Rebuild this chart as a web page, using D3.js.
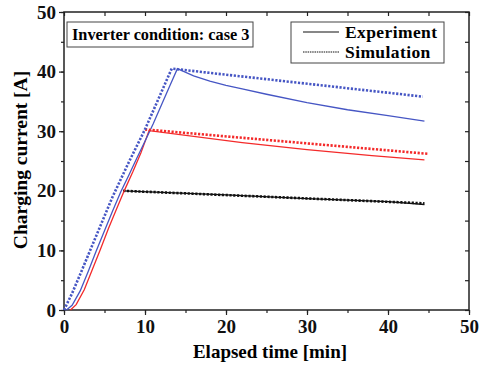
<!DOCTYPE html>
<html>
<head>
<meta charset="utf-8">
<script src="https://cdn.jsdelivr.net/npm/d3@7"></script>
<style>
  body { margin: 0; background: #fff; }
</style>
</head>
<body>
<div id="chart"></div>
<script>
// data: [time (min), current (A)]
const blueExp = [[0.3,0],[1,0.8],[2,3.2],[3,6.5],[4,10],[5,13.3],[6,16.6],[7,19.8],[8,22.6],[9,25.5],[10,28.3],[11,31.2],[12,34.3],[13,37.4],[14,40.5],
  [16,39.3],[18,38.4],[20,37.7],[22,37.1],[25,36.2],[30,34.8],[35,33.6],[40,32.6],[44.5,31.7]];
const blueSim = [[0,0],[1,2.8],[2,6],[4,12.5],[6,19],[8,24.8],[10,30.3],[13.3,40.5],[44.3,35.8]];
const redExp = [[0.8,0],[1.5,0.9],[2.5,3.4],[3.5,6.8],[4.5,10.2],[5.5,13.7],[6.5,17],[7.5,20.2],[8.5,23.2],[9.5,26.4],[10.5,30.1],
  [22,28.1],[30,26.9],[38,25.9],[44.5,25.2]];
const redSim = [[10,30.3],[45,26.2]];
const blackExp = [[7.3,20],[20,19.3],[30,18.7],[40,18.2],[44.5,17.7]];
const blackSim = [[7.3,20],[44.5,17.9]];

const xTicks = [0, 10, 20, 30, 40, 50];
const yTicks = [0, 10, 20, 30, 40, 50];

const width = 480, height = 365;
const margin = {left: 64, right: 11, top: 12, bottom: 55};
const serif = '"Liberation Serif", "Times New Roman", serif';

const svg = d3.select('#chart').append('svg')
  .attr('width', width).attr('height', height)
  .attr('font-family', serif).attr('font-weight', 'bold');

const x = d3.scaleLinear().domain([0, 50]).range([margin.left, width - margin.right]);
const y = d3.scaleLinear().domain([0, 50]).range([height - margin.bottom, margin.top]);

const minor = d3.range(0, 51, 5);

// bottom axis: ticks outward
svg.append('g')
  .attr('transform', `translate(0,${y(0)})`)
  .call(d3.axisBottom(x).tickValues(minor).tickSize(3).tickFormat(''))
  .call(g => g.select('.domain').remove());
svg.append('g')
  .attr('transform', `translate(0,${y(0)})`)
  .call(d3.axisBottom(x).tickValues(xTicks).tickSize(5).tickPadding(5))
  .call(g => g.select('.domain').remove())
  .call(g => g.selectAll('text').attr('font-family', serif).style('font-size', '19px').attr('fill', '#111'));

// left axis: ticks outward
svg.append('g')
  .attr('transform', `translate(${x(0)},0)`)
  .call(d3.axisLeft(y).tickValues(minor).tickSize(3).tickFormat(''))
  .call(g => g.select('.domain').remove());
svg.append('g')
  .attr('transform', `translate(${x(0)},0)`)
  .call(d3.axisLeft(y).tickValues(yTicks).tickSize(5).tickPadding(3))
  .call(g => g.select('.domain').remove())
  .call(g => g.selectAll('text').attr('font-family', serif).style('font-size', '19px').attr('fill', '#111'));

// top and right: ticks inward
svg.append('g')
  .attr('transform', `translate(0,${y(50)})`)
  .call(d3.axisTop(x).tickValues(minor).tickSize(-4).tickFormat(''))
  .call(g => g.select('.domain').remove());
svg.append('g')
  .attr('transform', `translate(${x(50)},0)`)
  .call(d3.axisRight(y).tickValues(minor).tickSize(-4).tickFormat(''))
  .call(g => g.select('.domain').remove());

svg.selectAll('.tick line').attr('stroke', '#222').attr('stroke-width', 1.2);

// frame
svg.append('rect')
  .attr('x', x(0)).attr('y', y(50))
  .attr('width', x(50) - x(0)).attr('height', y(0) - y(50))
  .attr('fill', 'none').attr('stroke', '#222').attr('stroke-width', 1.5);

const line = d3.line().x(d => x(d[0])).y(d => y(d[1]));

const blue = '#4656c4', red = '#f42a2a', black = '#111';
const series = [
  {data: blackExp, color: black, dash: false},
  {data: blackSim, color: black, dash: true},
  {data: redExp, color: red, dash: false},
  {data: blueExp, color: blue, dash: false},
  {data: redSim, color: red, dash: true},
  {data: blueSim, color: blue, dash: true}
];

svg.selectAll('path.series')
  .data(series)
  .enter()
  .append('path')
  .attr('class', 'series')
  .attr('d', d => line(d.data))
  .attr('fill', 'none')
  .attr('stroke', d => d.color)
  .attr('stroke-width', d => d.dash ? 2.6 : 1.3)
  .attr('stroke-dasharray', d => d.dash ? '2.2,1.6' : null);

// condition label
svg.append('rect')
  .attr('x', 67).attr('y', 22).attr('width', 186).attr('height', 25)
  .attr('fill', '#fff').attr('stroke', '#444').attr('stroke-width', 1);
svg.append('text')
  .attr('x', 72).attr('y', 39.5)
  .style('font-size', '16.3px')
  .text('Inverter condition: case 3');

// legend
svg.append('rect')
  .attr('x', 291).attr('y', 22).attr('width', 153).attr('height', 41)
  .attr('fill', '#fff').attr('stroke', '#444').attr('stroke-width', 1);
const legend = [{label: 'Experiment', dash: false}, {label: 'Simulation', dash: true}];
legend.forEach((d, i) => {
  const ly = 32 + i * 20;
  svg.append('line')
    .attr('x1', 303).attr('x2', 339).attr('y1', ly).attr('y2', ly)
    .attr('stroke', '#111')
    .attr('stroke-width', 1.2)
    .attr('stroke-dasharray', d.dash ? '1.5,0.8' : null);
  svg.append('text')
    .attr('x', 345).attr('y', ly + 6)
    .style('font-size', '17.5px')
    .style('letter-spacing', '0.4px')
    .text(d.label);
});

// axis titles
svg.append('text')
  .attr('x', 270).attr('y', 358)
  .attr('text-anchor', 'middle')
  .style('font-size', '19px')
  .text('Elapsed time [min]');
svg.append('text')
  .attr('transform', 'translate(27,160) rotate(-90)')
  .attr('text-anchor', 'middle')
  .style('font-size', '19.5px')
  .text('Charging current [A]');
</script>
</body>
</html>
